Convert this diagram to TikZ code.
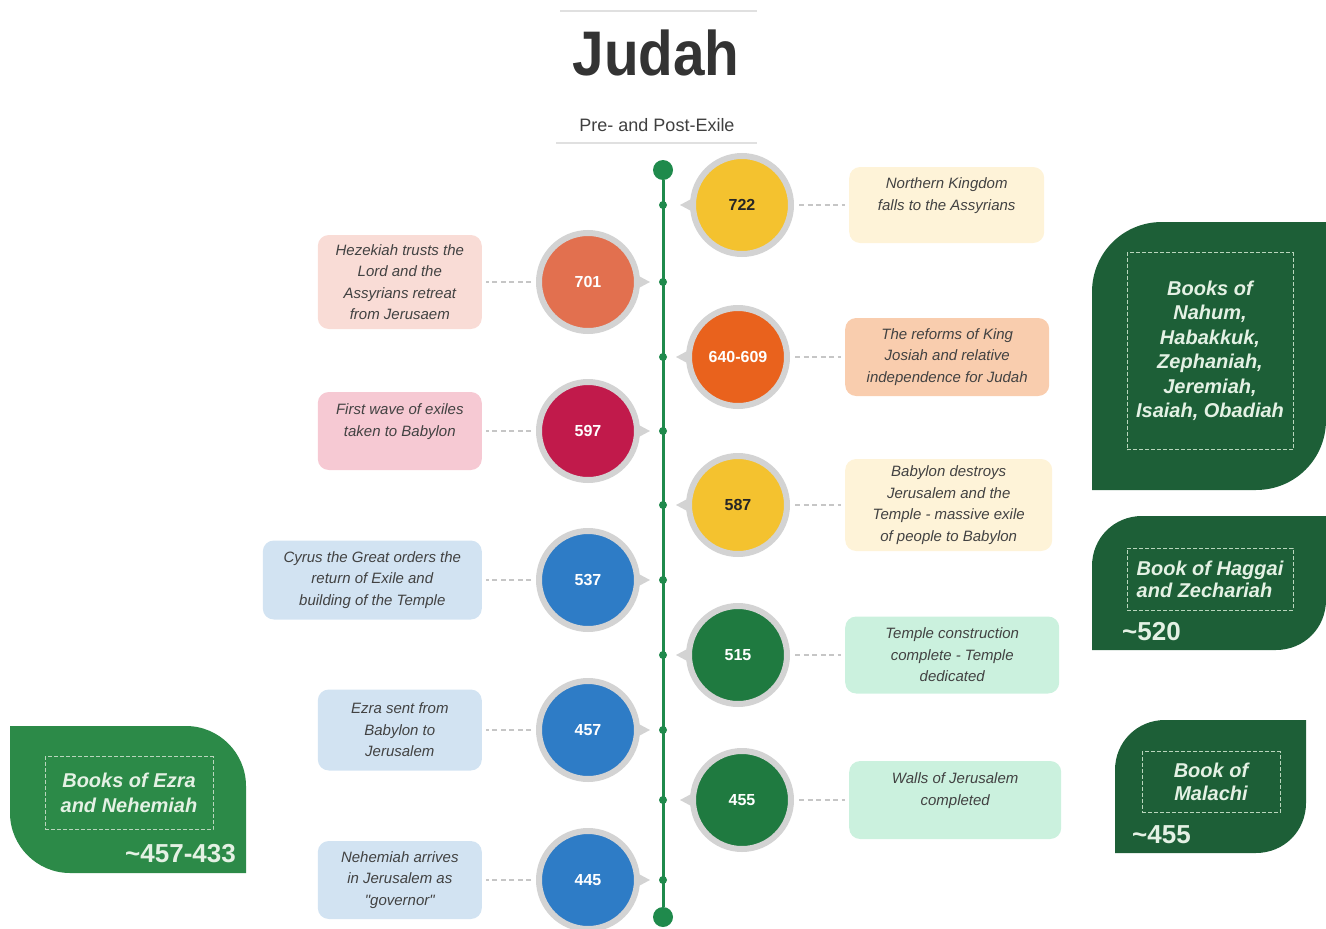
\documentclass[tikz,border=0pt]{standalone}
\usepackage{fontspec}
\setmainfont{Liberation Sans}
\usetikzlibrary{positioning}

\definecolor{tlgreen}{HTML}{1F8A4C}
\definecolor{ringgray}{HTML}{D3D3D3}
\definecolor{leafdark}{HTML}{1D5F37}
\definecolor{leaflight}{HTML}{2C8A48}
\definecolor{leaftxt}{HTML}{E4F1E4}
\definecolor{frameline}{HTML}{B9D5BC}
\definecolor{boxtxt}{HTML}{424242}
\definecolor{titletxt}{HTML}{333333}
\definecolor{yellowc}{HTML}{F4C22F}
\definecolor{coralc}{HTML}{E2704F}
\definecolor{orangec}{HTML}{E9621D}
\definecolor{crimsonc}{HTML}{C11A4B}
\definecolor{bluec}{HTML}{2E7CC6}
\definecolor{greenc}{HTML}{1F7A40}
\definecolor{creamb}{HTML}{FEF3D8}
\definecolor{pinkb}{HTML}{F9DCD6}
\definecolor{peachb}{HTML}{F9CDAE}
\definecolor{roseb}{HTML}{F6C9D3}
\definecolor{blueb}{HTML}{D2E3F2}
\definecolor{mintb}{HTML}{CBF1DE}

\begin{document}
\begin{tikzpicture}[
  x=1pt, y=-1pt,
  year/.style={circle, fill=#1, draw=ringgray, line width=6pt, minimum size=98pt, inner sep=0pt, text=white, font=\fontsize{16}{16}\selectfont\bfseries},
  event/.style={rounded corners=11pt, fill=#1, align=center, text=boxtxt, font=\fontsize{15}{21.5}\selectfont\itshape},
  link/.style={draw=gray!45, line width=1.5pt, dash pattern=on 5pt off 3.5pt, shorten <=5pt, shorten >=4pt},
  tline/.style={draw=tlgreen, line width=3pt},
  enddot/.style={circle, fill=tlgreen, minimum size=20pt, inner sep=0pt},
  leafframe/.style={draw=frameline, line width=1pt, dash pattern=on 4pt off 2pt, text=leaftxt, font=\fontsize{20}{24.5}\selectfont\bfseries\itshape, align=center},
  leafdate/.style={text=leaftxt, font=\fontsize{26}{26}\selectfont\bfseries, inner sep=0pt},
  rule/.style={draw=black!12, line width=1.5pt}
]
\useasboundingbox (0,0) rectangle (1326,929);

% heading
\draw[rule] (560,11) -- (757,11);
\node[anchor=base, text=titletxt, inner sep=0pt] (title) at (656,75) {\scalebox{0.9}[1]{\fontsize{63}{63}\selectfont\bfseries Judah}};
\node[anchor=base, text=black!75, inner sep=0pt, font=\fontsize{18}{18}\selectfont] (subtitle) at (657,131) {Pre- and Post-Exile};
\draw[rule] (556,143) -- (757,143);

% timeline
\node[enddot] (tTop) at (663,170) {};
\node[enddot] (tBot) at (663,917) {};
\draw[tline] (tTop) -- (tBot);
\foreach \y in {205,282,357,431,505,580,655,730,800,880}
  \fill[tlgreen] (663,\y) circle (4pt);

% years
\node[year=yellowc, text=black!85] (c722) at (742,205) {722};
\node[year=coralc] (c701) at (588,282) {701};
\node[year=orangec] (c640) at (738,357) {640-609};
\node[year=crimsonc] (c597) at (588,431) {597};
\node[year=yellowc, text=black!85] (c587) at (738,505) {587};
\node[year=bluec] (c537) at (588,580) {537};
\node[year=greenc] (c515) at (738,655) {515};
\node[year=bluec] (c457) at (588,730) {457};
\node[year=greenc] (c455) at (742,800) {455};
\node[year=bluec] (c445) at (588,880) {445};

\foreach \n/\s in {c722/-1,c701/1,c640/-1,c597/1,c587/-1,c537/1,c515/-1,c457/1,c455/-1,c445/1}
  \fill[ringgray] ([shift={(\s*47pt,8pt)}]\n.center) -- ([shift={(\s*62pt,0pt)}]\n.center) -- ([shift={(\s*47pt,-8pt)}]\n.center) -- cycle;

% events
\node[event=creamb, minimum width=195pt, minimum height=76pt, right=55pt of c722] (b722) {Northern Kingdom\\falls to the Assyrians\\~};
\node[event=pinkb, minimum width=164pt, minimum height=94pt, left=54pt of c701] (b701) {Hezekiah trusts the\\Lord and the\\Assyrians retreat\\from Jerusaem};
\node[event=peachb, minimum width=204pt, minimum height=78pt, right=55pt of c640] (b640) {The reforms of King\\Josiah and relative\\independence for Judah};
\node[event=roseb, minimum width=164pt, minimum height=78pt, left=54pt of c597] (b597) {First wave of exiles\\taken to Babylon\\~};
\node[event=creamb, minimum width=207pt, minimum height=92pt, right=55pt of c587] (b587) {Babylon destroys\\Jerusalem and the\\Temple - massive exile\\of people to Babylon};
\node[event=blueb, minimum width=219pt, minimum height=79pt, left=54pt of c537] (b537) {Cyrus the Great orders the\\return of Exile and\\building of the Temple};
\node[event=mintb, minimum width=214pt, minimum height=77pt, right=55pt of c515] (b515) {Temple construction\\complete - Temple\\dedicated};
\node[event=blueb, minimum width=164pt, minimum height=81pt, left=54pt of c457] (b457) {Ezra sent from\\Babylon to\\Jerusalem};
\node[event=mintb, minimum width=212pt, minimum height=78pt, right=55pt of c455] (b455) {Walls of Jerusalem\\completed\\~};
\node[event=blueb, minimum width=164pt, minimum height=78pt, left=54pt of c445] (b445) {Nehemiah arrives\\in Jerusalem as\\\textquotedbl governor\textquotedbl};

\foreach \n in {722,701,640,597,587,537,515,457,455,445}
  \draw[link] (c\n) -- (b\n);

% books
\fill[leafdark] (1092,490) -- (1092,292) .. controls (1092,253) and (1123,222) .. (1162,222) -- (1326,222) -- (1326,420) .. controls (1326,459) and (1295,490) .. (1256,490) -- cycle;
\node[leafframe, minimum width=166pt, minimum height=197pt] (nahum) at (1210,351) {Books of\\Nahum,\\Habakkuk,\\Zephaniah,\\Jeremiah,\\Isaiah, Obadiah};

\fill[leafdark] (1092,650) -- (1092,566) .. controls (1092,538) and (1114,516) .. (1142,516) -- (1326,516) -- (1326,600) .. controls (1326,628) and (1304,650) .. (1276,650) -- cycle;
\node[leafframe, align=left, minimum width=166pt, minimum height=62pt, font=\fontsize{20}{22}\selectfont\bfseries\itshape] (haggai) at (1210,579) {Book of Haggai\\and Zechariah};
\node[leafdate, anchor=base west] (d520) at (1122,640) {\textasciitilde520};

\fill[leafdark] (1115,853) -- (1115,770) .. controls (1115,742) and (1137,720) .. (1165,720) -- (1306,720) -- (1306,803) .. controls (1306,831) and (1284,853) .. (1256,853) -- cycle;
\node[leafframe, minimum width=138pt, minimum height=61pt, font=\fontsize{20}{23}\selectfont\bfseries\itshape] (malachi) at (1211,782) {Book of\\Malachi};
\node[leafdate, anchor=base west] (d455) at (1132,843) {\textasciitilde455};

\fill[leaflight] (10,726) -- (186,726) .. controls (219,726) and (246,753) .. (246,786) -- (246,873) -- (70,873) .. controls (37,873) and (10,846) .. (10,813) -- cycle;
\node[leafframe, minimum width=168pt, minimum height=73pt] (ezra) at (129,793) {Books of Ezra\\and Nehemiah};
\node[leafdate, anchor=base east] (d457) at (236,862) {\textasciitilde457-433};
\end{tikzpicture}
\end{document}
